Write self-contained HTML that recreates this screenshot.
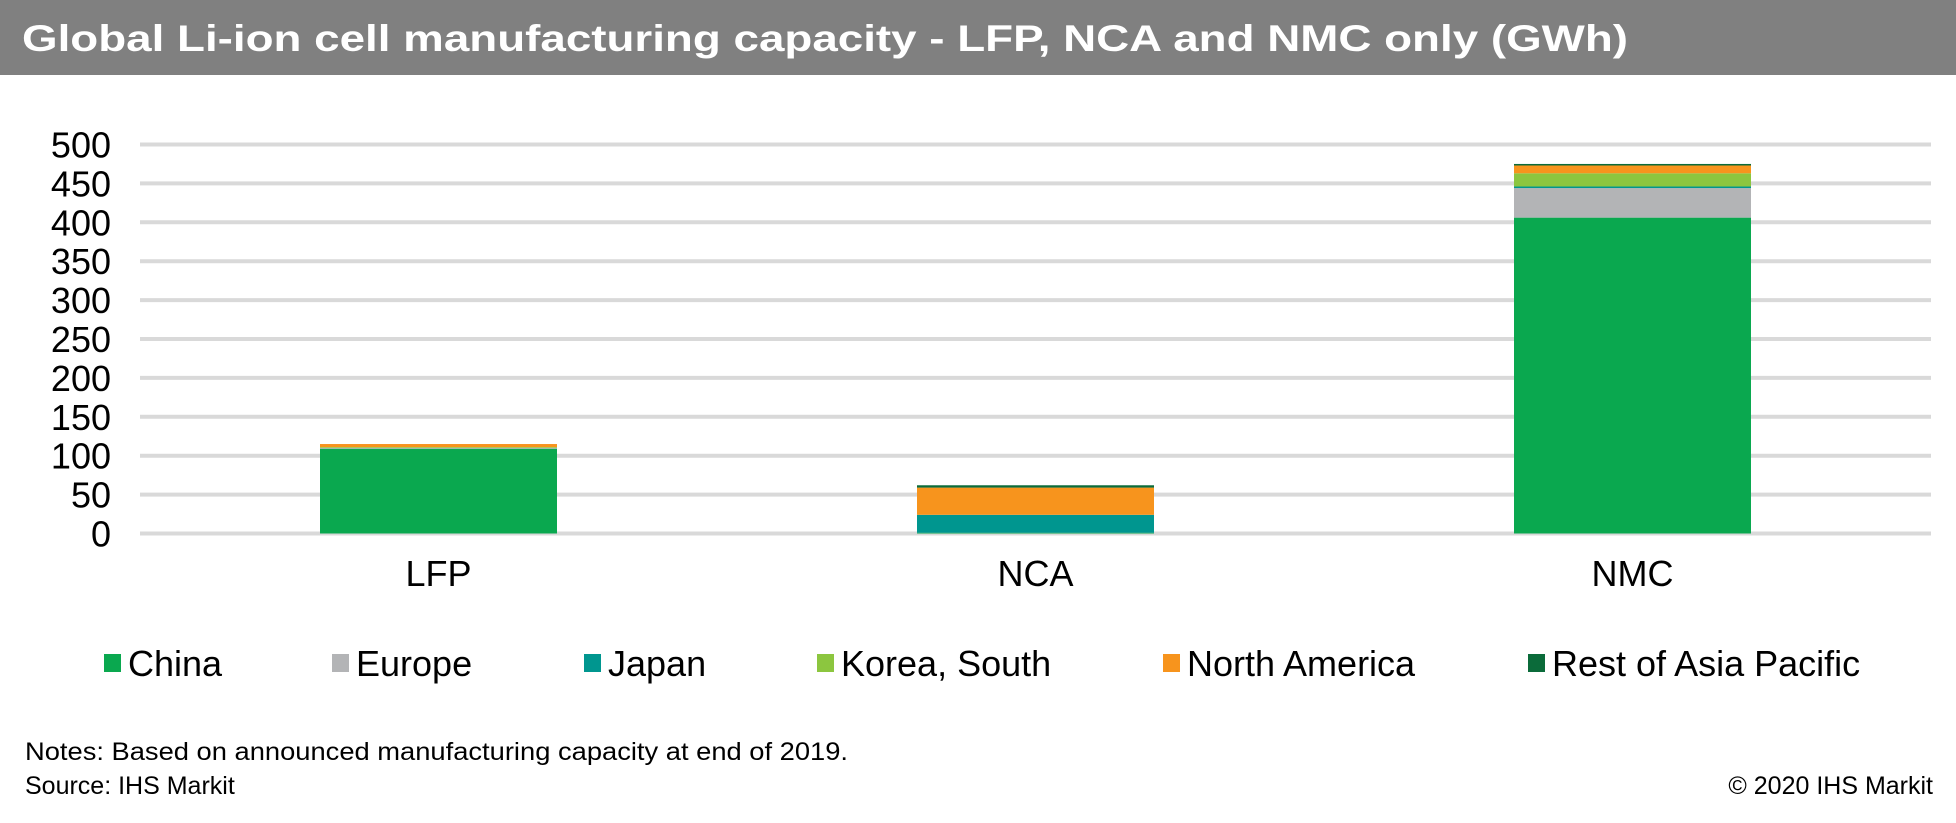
<!DOCTYPE html>
<html><head><meta charset="utf-8"><style>
html,body{margin:0;padding:0;background:#fff;}
svg{display:block;font-family:"Liberation Sans",Arial,sans-serif;}
</style></head><body>
<svg id="chart" width="1956" height="823" viewBox="0 0 1956 823" xmlns="http://www.w3.org/2000/svg">
<rect x="0" y="0" width="1956" height="75" fill="#808080"/>
<text x="22" y="51" font-size="37" font-weight="bold" fill="#fff" textLength="1606" lengthAdjust="spacingAndGlyphs">Global Li-ion cell manufacturing capacity - LFP, NCA and NMC only (GWh)</text>
<g id="grid"></g>
<g id="yticks"></g>
<g id="bars"></g>
<g id="xlabels"></g>
<g id="legend"></g>
<text x="25" y="760" font-size="25" fill="#000" textLength="823" lengthAdjust="spacingAndGlyphs">Notes: Based on announced manufacturing capacity at end of 2019.</text>
<text x="25" y="794" font-size="25" fill="#000">Source: IHS Markit</text>
<text x="1933" y="794" font-size="25" fill="#000" text-anchor="end">© 2020 IHS Markit</text>
</svg>
<script>
const categories = ["LFP", "NCA", "NMC"];
const seriesNames = ["China", "Europe", "Japan", "Korea, South", "North America", "Rest of Asia Pacific"];
const seriesColors = ["#0aa84f", "#b3b4b6", "#00968f", "#8cc63f", "#f7941d", "#0b6b3a"];
const china = [109, 1, 406];
const europe = [1, 0, 38];
const japan = [0, 23, 2];
const korea = [1, 0, 17];
const northAmerica = [4, 35, 10];
const restOfAsia = [0, 3, 2];
const yTicks = [0, 50, 100, 150, 200, 250, 300, 350, 400, 450, 500];

const series = [china, europe, japan, korea, northAmerica, restOfAsia];
const NS = "http://www.w3.org/2000/svg";
const plotL = 140, plotR = 1931, y0 = 533.5, pxPer = 0.778;
const yScale = v => y0 - v * pxPer;
const band = (plotR - plotL) / categories.length;
const xCenter = i => plotL + band * (i + 0.5);
const barW = 237;
function mk(tag, attrs, parent) {
  const e = document.createElementNS(NS, tag);
  for (const k in attrs) e.setAttribute(k, attrs[k]);
  parent.appendChild(e);
  return e;
}
const grid = document.getElementById("grid");
const yt = document.getElementById("yticks");
yTicks.forEach(t => {
  const l = mk("line", {x1: plotL, x2: plotR, y1: yScale(t), y2: yScale(t), stroke: "#d9d9d9", "stroke-width": 4}, grid);
  
  
  const tx = mk("text", {x: 111, y: yScale(t) + 13, "font-size": 36, "text-anchor": "end", fill: "#000"}, yt);
  tx.textContent = t;
  
  
});
const bars = document.getElementById("bars");
categories.forEach((c, i) => {
  let acc = 0;
  series.forEach((s, j) => {
    const v = s[i];
    if (v <= 0) return;
    const r = mk("rect", {x: xCenter(i) - barW / 2, y: yScale(acc + v), width: barW, height: v * pxPer, fill: seriesColors[j]}, bars);
    
    
    acc += v;
  });
  const lb = mk("text", {x: xCenter(i), y: 586, "font-size": 36, "text-anchor": "middle", fill: "#000"}, document.getElementById("xlabels"));
  lb.textContent = c;
  
  
});
const legX = [104, 332, 584, 817, 1163, 1528];
const lg = document.getElementById("legend");
seriesNames.forEach((n, j) => {
  const g = mk("g", {}, lg);
  
  
  mk("rect", {x: legX[j], y: 654, width: 17, height: 18, fill: seriesColors[j]}, g);
  const t = mk("text", {x: legX[j] + 24, y: 676, "font-size": 36, fill: "#000"}, g);
  t.textContent = n;
});
</script>
</body></html>
